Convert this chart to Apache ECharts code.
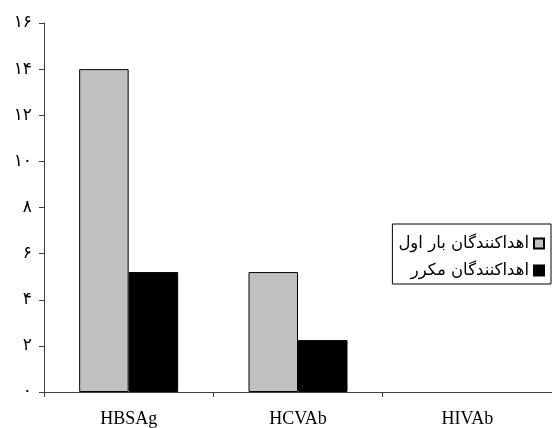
<!DOCTYPE html>
<html>
<head>
<meta charset="utf-8">
<script src="https://cdn.jsdelivr.net/npm/echarts@6/dist/echarts.min.js"></script>
<style>
html,body{margin:0;padding:0;background:#fff;}
#chart{width:552px;height:428px;}
</style>
</head>
<body>
<div id="chart"></div>
<script>
var categories = ['HBSAg', 'HCVAb', 'HIVAb'];
var seriesNames = ['اهداکنندگان بار اول', 'اهداکنندگان مکرر'];
var firstTimeDonors = [14, 5.2, 0];
var repeatDonors = [5.2, 2.25, 0];
var yTickLabels = ['۰', '۲', '۴', '۶', '۸', '۱۰', '۱۲', '۱۴', '۱۶'];

function toBarData(arr) {
  return arr.map(function (v) {
    return v === 0 ? {value: v, itemStyle: {borderWidth: 0, opacity: 0}} : {value: v};
  });
}

var chart = echarts.init(document.getElementById('chart'), null, {renderer: 'canvas'});
var axisColor = '#404040';
chart.setOption({
  animation: false,
  backgroundColor: '#fff',
  grid: {left: 44, top: 23, width: 510, bottom: 35, containLabel: false},
  legend: {
    orient: 'vertical',
    right: 1,
    top: 224,
    align: 'right',
    icon: 'rect',
    itemWidth: 10,
    itemHeight: 10,
    itemGap: 10,
    padding: [11, 6, 5, 6],
    borderColor: '#000',
    borderWidth: 1,
    backgroundColor: '#fff',
    data: seriesNames,
    textStyle: {fontFamily: "'DejaVu Sans', 'Liberation Serif', serif", fontSize: 16.5, color: '#000'}
  },
  xAxis: {
    type: 'category',
    data: categories,
    axisLine: {show: true, lineStyle: {color: axisColor, width: 1}},
    axisTick: {show: true, alignWithLabel: false, length: 5, lineStyle: {color: axisColor}},
    axisLabel: {margin: 18, fontFamily: "'Liberation Serif', 'Times New Roman', serif", fontSize: 18, color: '#000'},
    splitLine: {show: false}
  },
  yAxis: {
    type: 'value',
    min: 0,
    max: 16,
    interval: 2,
    axisLine: {show: true, lineStyle: {color: axisColor, width: 1}},
    axisTick: {show: true, length: 5, lineStyle: {color: axisColor}},
    axisLabel: {
      margin: 12,
      fontFamily: "'DejaVu Sans', serif",
      fontSize: 17,
      color: '#000',
      formatter: function (v) { return yTickLabels[Math.round(v / 2)]; }
    },
    splitLine: {show: false}
  },
  series: [
    {
      name: seriesNames[0],
      type: 'bar',
      data: toBarData(firstTimeDonors),
      barWidth: 49.5,
      barGap: '0%',
      itemStyle: {color: '#C0C0C0', borderColor: '#000', borderWidth: 1}
    },
    {
      name: seriesNames[1],
      type: 'bar',
      data: toBarData(repeatDonors),
      barWidth: 49.5,
      barGap: '0%',
      itemStyle: {color: '#000', borderColor: '#000', borderWidth: 1}
    }
  ]
});
</script>
</body>
</html>
